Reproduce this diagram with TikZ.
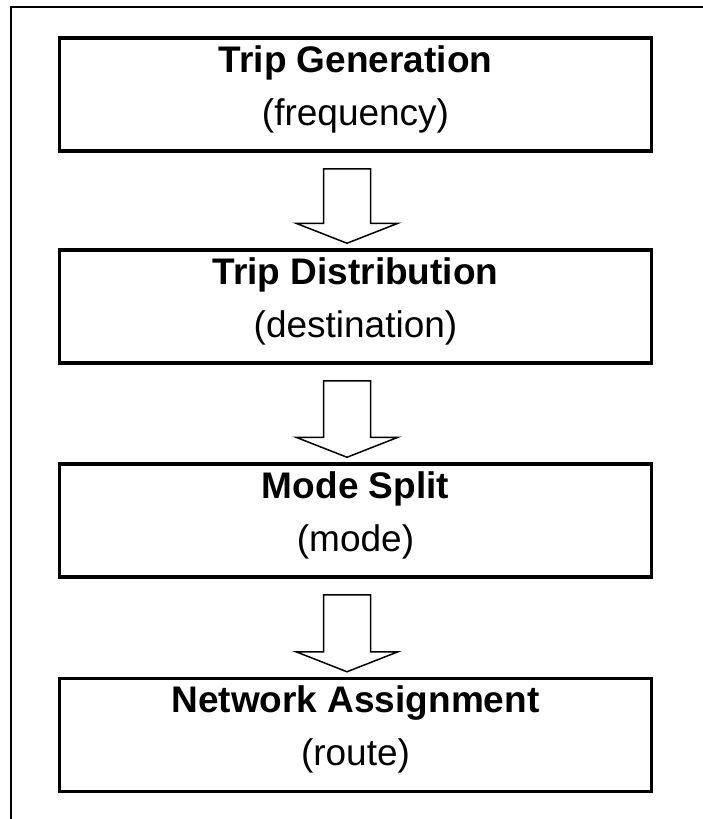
\documentclass[tikz,border=0pt]{standalone}
\usepackage{fontspec}
\setmainfont{Liberation Sans}
\usetikzlibrary{calc,positioning}

\tikzset{
	stage/.style={draw, line width=3.5pt, minimum width=592pt, minimum height=113pt, inner sep=0pt},
	stagetitle/.style={font=\fontsize{37}{44}\selectfont\bfseries, anchor=base},
	stagesub/.style={font=\fontsize{37}{44}\selectfont, anchor=base},
	hollowarrow/.style={line width=1.5pt, line join=miter}
}
% hollow block arrow from the bottom of #1 to the top of #2
\newcommand{\flowarrow}[2]{%
	\draw [hollowarrow] ($(#1.south)+(-32,16)$) -- ($(#2.north)+(-32,-25)$) -- ($(#2.north)+(-59.5,-25)$) -- ($(#2.north)+(-8.5,-5)$) -- ($(#2.north)+(42.5,-25)$) -- ($(#2.north)+(15,-25)$) -- ($(#1.south)+(15,16)$) -- cycle;}

\begin{document}
\begin{tikzpicture}[x=1pt, y=-1pt]
		%\draw [help lines, step=50] (0,0) grid (702,819);
		\useasboundingbox (0,0) rectangle (702,819);
		\draw [line width=1.3pt] (11,825) -- (11,7) -- (708,7);
		\node [stage] (gen) at (355.5,94.5) {};
		\node [stage] (dist) at (355.5,306.5) {};
		\node [stage] (mode) at (355.5,520.5) {};
		\node [stage] (assign) at (355.5,735) {};
		\node [stagetitle] (genT) at ($(gen.north)+(0,36)$) {Trip Generation};
		\node [stagesub] (genS) at ($(gen.north)+(0,89)$) {(frequency)};
		\node [stagetitle] (distT) at ($(dist.north)+(0,36)$) {Trip Distribution};
		\node [stagesub] (distS) at ($(dist.north)+(0,89)$) {(destination)};
		\node [stagetitle] (modeT) at ($(mode.north)+(0,36)$) {Mode Split};
		\node [stagesub] (modeS) at ($(mode.north)+(0,89)$) {(mode)};
		\node [stagetitle] (assignT) at ($(assign.north)+(0,36)$) {Network Assignment};
		\node [stagesub] (assignS) at ($(assign.north)+(0,89)$) {(route)};
		\flowarrow{gen}{dist}
		\flowarrow{dist}{mode}
		\flowarrow{mode}{assign}
	\end{tikzpicture}
\end{document}
